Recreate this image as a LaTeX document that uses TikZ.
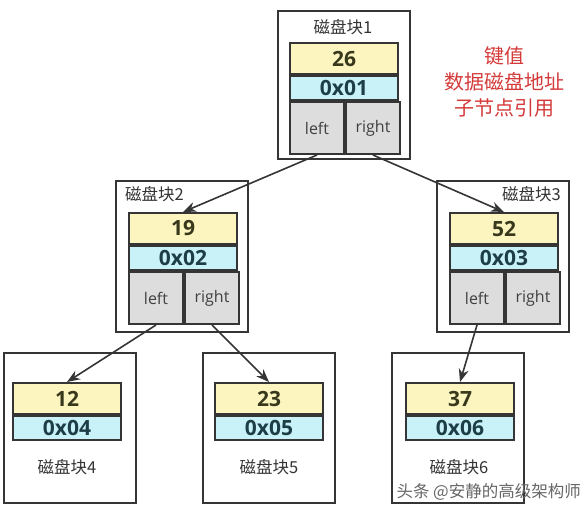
\documentclass[tikz,border=0pt]{standalone}
\usepackage{fontspec}
\setmainfont{Open Sans}
\newfontfamily\cjk{Noto Sans CJK SC}
\usetikzlibrary{positioning,arrows.meta}

\definecolor{keyfill}{HTML}{FDF5C0}
\definecolor{addrfill}{HTML}{C8F2F7}
\definecolor{ptrfill}{HTML}{DDDDDD}
\definecolor{keytext}{HTML}{38381C}
\definecolor{addrtext}{HTML}{1E3E46}
\definecolor{edge}{HTML}{353535}
\definecolor{notered}{HTML}{D43A3A}

\tikzset{
    blockbox/.style={draw=edge, line width=1.7pt, fill=white, minimum width=132, minimum height=148, anchor=north west, inner sep=0pt},
    keycell/.style={draw=edge, line width=2pt, fill=keyfill, text=keytext, minimum width=108, minimum height=31, inner sep=0pt, font=\fontsize{21}{22}\selectfont\bfseries},
    addrcell/.style={draw=edge, line width=2pt, fill=addrfill, text=addrtext, minimum width=108, minimum height=24, inner sep=0pt, font=\fontsize{21}{22}\selectfont\bfseries},
    ptrcell/.style={draw=edge, line width=2pt, fill=ptrfill, text=black!75, minimum width=54, minimum height=52, inner sep=0pt, anchor=north west, font=\fontsize{16}{18}\selectfont},
    blocktitle/.style={text=black!80, inner sep=0pt, font=\cjk\fontsize{16.5}{18}\selectfont},
    link/.style={draw=edge, line width=1.6pt, -{Stealth[length=13pt,width=10pt]}}
}

\begin{document}
\begin{tikzpicture}[x=1pt, y=-1pt]
    \useasboundingbox (0,0) rectangle (588,509);

    % Disk block 1 (root)
    \node[blockbox, minimum height=148] (b1) at (277,10) {};
    \node[blocktitle] (t1) at (343,27) {磁盘块1};
    \node[keycell, anchor=north west] (k1) at (289,42) {26};
    \node[addrcell, below=0pt of k1] (a1) {0x01};
    \node[ptrcell] (l1) at (a1.south west) {left};
    \node[ptrcell] (r1) at (l1.north east) {right};

    % Disk block 2
    \node[blockbox, minimum height=151] (b2) at (115,180) {};
    \node[blocktitle, anchor=west] (t2) at (125,194) {磁盘块2};
    \node[keycell, anchor=north west] (k2) at (128,212) {19};
    \node[addrcell, below=0pt of k2] (a2) {0x02};
    \node[ptrcell] (l2) at (a2.south west) {left};
    \node[ptrcell] (r2) at (l2.north east) {right};

    % Disk block 3
    \node[blockbox, minimum height=151] (b3) at (436,180) {};
    \node[blocktitle, anchor=east] (t3) at (561,194) {磁盘块3};
    \node[keycell, anchor=north west] (k3) at (449,212) {52};
    \node[addrcell, below=0pt of k3] (a3) {0x03};
    \node[ptrcell] (l3) at (a3.south west) {left};
    \node[ptrcell] (r3) at (l3.north east) {right};

    % Leaf blocks
    \node[blockbox, minimum height=150] (b4) at (3,352) {};
    \node[keycell, anchor=north west] (k4) at (12,382) {12};
    \node[addrcell, below=0pt of k4] (a4) {0x04};
    \node[blocktitle] (t4) at (67,467) {磁盘块4};

    \node[blockbox, minimum height=150] (b5) at (202,352) {};
    \node[keycell, anchor=north west] (k5) at (214,382) {23};
    \node[addrcell, below=0pt of k5] (a5) {0x05};
    \node[blocktitle] (t5) at (269,467) {磁盘块5};

    \node[blockbox, minimum height=150] (b6) at (391,352) {};
    \node[keycell, anchor=north west] (k6) at (405,382) {37};
    \node[addrcell, below=0pt of k6] (a6) {0x06};
    \node[blocktitle] (t6) at (459,467) {磁盘块6};

    % Child references
    \draw[link] (l1.south) -- (k2.north);
    \draw[link] (r1.south) -- (k3.north);
    \draw[link] (l2.south) -- (k4.north);
    \draw[link] (r2.south) -- (k5.north);
    \draw[link] (l3.south) -- (k6.north);

    % Legend
    \node[text=notered, align=center, font=\cjk\fontsize{20}{26}\selectfont] (legend) at (504,82) {键值\\数据磁盘地址\\子节点引用};

    % Watermark
    \node[text=black!60, anchor=east, inner sep=0pt, font=\cjk\fontsize{16.5}{18}\selectfont] (mark) at (581,492) {头条 @安静的高级架构师};
\end{tikzpicture}
\end{document}
